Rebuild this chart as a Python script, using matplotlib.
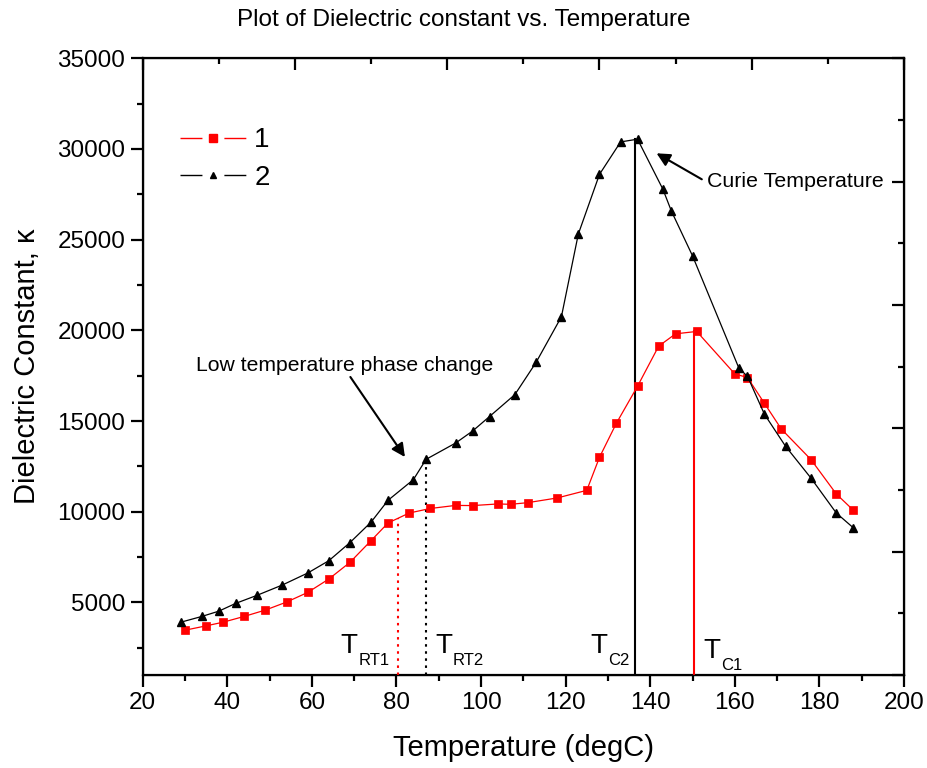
import numpy as np
import matplotlib
matplotlib.use("Agg")
import matplotlib.pyplot as plt
from matplotlib.lines import Line2D

plt.rcParams['font.family'] = ['Liberation Sans', 'DejaVu Sans']

# sample 1 (red squares)
temp_1 = [30, 35, 39, 44, 49, 54, 59, 64, 69, 74, 78, 83, 88, 94, 98, 104, 107,
          111, 118, 125, 128, 132, 137, 142, 146, 151, 160, 163, 167, 171, 178, 184, 188]
k_1 = [3470, 3710, 3910, 4230, 4580, 5020, 5550, 6290, 7210, 8410, 9380, 9930,
       10180, 10350, 10340, 10430, 10410, 10500, 10760, 11180, 13000, 14880, 16920,
       19130, 19810, 19940, 17600, 17400, 15980, 14560, 12880, 10980, 10090]

# sample 2 (black triangles)
temp_2 = [29, 34, 38, 42, 47, 53, 59, 64, 69, 74, 78, 84, 87, 94, 98, 102, 108,
          113, 119, 123, 128, 133, 137, 143, 145, 150, 161, 163, 167, 172, 178, 184, 188]
k_2 = [3910, 4230, 4520, 4950, 5390, 5960, 6620, 7300, 8300, 9430, 10630, 11770,
       12890, 13790, 14450, 15250, 16460, 18230, 20750, 25310, 28600, 30390, 30540,
       27780, 26580, 24110, 17900, 17470, 15380, 13610, 11860, 9930, 9120]

# transition markers
trans_names = ['RT1', 'RT2', 'C2', 'C1']
trans_temp = [80.4, 87.0, 136.5, 150.3]
trans_top = [9640, 12890, 30540, 19940]
trans_color = ['red', 'black', 'black', 'red']
trans_style = [(0, (1.2, 2.2)), (0, (1.2, 2.2)), '-', '-']
trans_label_x = [66.8, 89.1, 125.8, 152.5]
trans_label_y = [2213, 2213, 2213, 1937]
trans_sub_y = [1551, 1551, 1551, 1276]

fig = plt.figure(figsize=(9.28, 7.68), dpi=100)
ax = fig.add_axes([0.1538, 0.1211, 0.8203, 0.8030])

ax.plot(temp_1, k_1, color='red', lw=0.9, marker='s', ms=6, mec='red', mew=0.5, zorder=4)
ax.plot(temp_2, k_2, color='black', lw=0.9, marker='^', ms=5.5, zorder=4)

for t, top, c, ls in zip(trans_temp, trans_top, trans_color, trans_style):
    ax.plot([t, t], [1000, top], color=c, ls=ls, lw=1.5, zorder=3)

for name, x, y, ys in zip(trans_names, trans_label_x, trans_label_y, trans_sub_y):
    ax.text(x, y, 'T', fontsize=20, ha='left', va='baseline')
    ax.text(x + 4.15, ys, name, fontsize=12, ha='left', va='baseline')

arrow = dict(arrowstyle='-|>', color='black', lw=1.5, mutation_scale=20,
             shrinkA=0, shrinkB=0)
ax.text(67.8, 18090, 'Low temperature phase change', fontsize=15.2, ha='center', va='center')
ax.annotate('', xy=(82.0, 13018), xytext=(69.1, 17430), arrowprops=arrow)
ax.text(153.4, 28234, 'Curie Temperature', fontsize=15.4, ha='left', va='center')
ax.annotate('', xy=(141.5, 29762), xytext=(152.2, 28328), arrowprops=arrow)

ax.set_xlim(20, 200)
ax.set_ylim(1000, 35000)
ax.set_xticks(np.arange(20, 201, 20))
ax.set_xticks(np.arange(30, 200, 20), minor=True)
ax.set_yticks(np.arange(5000, 35001, 5000))
ax.set_yticks(np.arange(2500, 35000, 5000), minor=True)
ax.tick_params(which='major', direction='out', length=8.5, width=1.6, labelsize=17.5, pad=4)
ax.tick_params(which='minor', direction='out', length=4.5, width=1.6)
for s in ax.spines.values():
    s.set_linewidth(1.6)

ax.set_xlabel('Temperature (degC)', fontsize=21, labelpad=14)
ax.set_ylabel('Dielectric Constant, κ', fontsize=21, labelpad=12)
fig.text(0.5, 1 - 20 / 768, 'Plot of Dielectric constant vs. Temperature',
         fontsize=17.5, ha='center', va='center')

# Origin style unlabelled top and right axes
ax_r = ax.twinx()
ax_r.set_ylim(0, 1)
ax_r.set_yticks(np.linspace(0, 1, 6))
ax_r.set_yticks(np.linspace(0.1, 0.9, 5), minor=True)
ax_r.tick_params(axis='y', which='both', direction='in', labelright=False, width=1.6)
ax_r.tick_params(axis='y', which='major', length=8.5)
ax_r.tick_params(axis='y', which='minor', length=4.5)

ax_t = ax.twiny()
ax_t.set_xlim(0, 1)
ax_t.set_xticks(np.linspace(0, 1, 6))
ax_t.set_xticks(np.linspace(0.1, 0.9, 5), minor=True)
ax_t.tick_params(axis='x', which='both', direction='in', labeltop=False, width=1.6)
ax_t.tick_params(axis='x', which='major', length=8.5)
ax_t.tick_params(axis='x', which='minor', length=4.5)

# legend with a gap around the marker
gap = (0, (15.8, 15.8))
h1 = (Line2D([], [], color='red', lw=1, ls=gap), Line2D([], [], color='red', ls='', marker='s', ms=6))
h2 = (Line2D([], [], color='black', lw=1, ls=gap), Line2D([], [], color='black', ls='', marker='^', ms=5))
ax.legend([h1, h2], ['1', '2'], loc='upper left', bbox_to_anchor=(0.049, 0.888),
          frameon=False, fontsize=20, handlelength=2.37, handletextpad=0.3,
          labelspacing=0.42, borderpad=0, borderaxespad=0)

fig.savefig('out.png', dpi=100)
